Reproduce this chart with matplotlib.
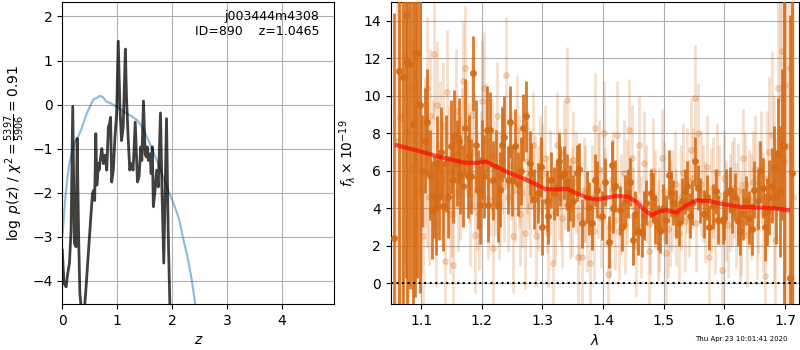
import matplotlib
matplotlib.use('Agg')
import matplotlib.pyplot as plt

# ── p(z) panel data ───────────────────────────────────────────────────────────
z_prior = [0.00, 0.02, 0.05, 0.08, 0.12, 0.17, 0.23, 0.29, 0.35, 0.44, 0.52,
           0.57, 0.63, 0.69, 0.74, 0.80, 0.88, 0.99, 1.08, 1.17, 1.27, 1.36,
           1.45, 1.54, 1.63, 1.72, 1.81, 1.90, 1.98, 2.05, 2.13, 2.21, 2.29,
           2.36, 2.42, 2.50, 2.60]
lnp_prior = [-3.0, -2.7, -2.2, -1.8, -1.4, -1.1, -0.85, -0.73, -0.55, -0.22, 0.0,
             0.12, 0.15, 0.20, 0.17, 0.07, 0.03, -0.05, -0.12, -0.20, -0.27, -0.35,
             -0.50, -0.73, -0.98, -1.26, -1.55, -1.86, -2.10, -2.32, -2.60, -3.08, -3.50,
             -3.98, -4.51, -5.10, -6.00]

z_grid = [0.00, 0.03, 0.07, 0.09, 0.13, 0.16, 0.19, 0.22, 0.25, 0.27, 0.30,
          0.32, 0.35, 0.40, 0.43, 0.47, 0.52, 0.55, 0.57, 0.59, 0.61, 0.63,
          0.66, 0.67, 0.70, 0.72, 0.75, 0.78, 0.81, 0.84, 0.86, 0.88, 0.90,
          0.93, 0.96, 0.99, 1.02, 1.05, 1.08, 1.11, 1.15, 1.17, 1.20, 1.23,
          1.26, 1.29, 1.33, 1.37, 1.40, 1.43, 1.45, 1.48, 1.51, 1.53, 1.55,
          1.57, 1.60, 1.62, 1.64, 1.66, 1.69, 1.72, 1.75, 1.79, 1.82, 1.85,
          1.90, 1.93, 1.96, 1.98, 2.05]
lnp_fit = [-3.31, -4.06, -4.14, -3.91, -3.60, -2.85, -0.04, -3.15, -3.23, -0.77, -3.15,
           -4.29, -4.70, -4.70, -4.20, -3.46, -2.55, -2.02, -1.95, -2.18, -0.66, -1.83,
           -1.34, -1.49, -1.19, -1.00, -1.34, -1.15, -1.49, -0.51, -0.44, -0.29, -1.76,
           -1.49, -0.74, -0.21, 1.44, -0.06, -0.82, -0.51, 1.26, 0.17, -0.74, -1.49,
           -1.34, -1.49, -0.40, -1.76, -1.64, -0.96, -1.27, 0.08, -1.12, -1.19, -0.96,
           -1.27, -1.12, -1.57, -0.96, -2.32, -1.95, -1.49, -1.87, -0.19, -2.10, -3.60,
           -0.32, -2.85, -4.50, -5.10, -8.00]

# ── spectrum panel data ───────────────────────────────────────────────────────
# high S/N beam (dark)
dark_wave = [1.0555, 1.0637, 1.0698, 1.0750, 1.0775, 1.0820, 1.0860, 1.0900, 1.0940, 1.1060,
             1.1140, 1.1180, 1.1210, 1.1260, 1.1300, 1.1370, 1.1410, 1.1450, 1.1490, 1.1540,
             1.1590, 1.1650, 1.1730, 1.1770, 1.1820, 1.1860, 1.1910, 1.1970, 1.2030, 1.2080,
             1.2130, 1.2190, 1.2270, 1.2330, 1.2370, 1.2440, 1.2500, 1.2550, 1.2600, 1.2680,
             1.2730, 1.2790, 1.2820, 1.2930, 1.3000, 1.3070, 1.3140, 1.3190, 1.3240, 1.3290,
             1.3350, 1.3400, 1.3460, 1.3510, 1.3570, 1.3650, 1.3730, 1.3810, 1.3900, 1.4030,
             1.4090, 1.4140, 1.4200, 1.4280, 1.4360, 1.4450, 1.4530, 1.4580, 1.4640, 1.4710,
             1.4790, 1.4860, 1.4940, 1.4990, 1.5090, 1.5150, 1.5210, 1.5300, 1.5390, 1.5460,
             1.5520, 1.5600, 1.5660, 1.5750, 1.5820, 1.5900, 1.5970, 1.6030, 1.6120, 1.6180,
             1.6250, 1.6310, 1.6400, 1.6490, 1.6590, 1.6670, 1.6740, 1.6810, 1.6850, 1.6890,
             1.6950, 1.6990, 1.7080, 1.7110,
             1.098, 1.102, 1.110, 1.124, 1.133, 1.152, 1.162, 1.169, 1.179, 1.194,
             1.200, 1.211, 1.223, 1.230, 1.247, 1.265, 1.287, 1.297, 1.310, 1.327,
             1.343, 1.361, 1.377, 1.386, 1.399, 1.417, 1.432, 1.441, 1.449, 1.467,
             1.483, 1.490, 1.504, 1.512, 1.525, 1.535, 1.543, 1.557, 1.571, 1.586,
             1.600, 1.609, 1.622, 1.636, 1.645, 1.655, 1.663, 1.671, 1.678, 1.692]
dark_flux = [2.4, 11.3, 11.0, 14.3, 11.8, 11.7, 8.5, 12.3, 12.3, 7.6,
             5.8, 3.9, 4.6, 6.4, 4.6, 4.1, 6.4, 4.6, 7.3, 7.9,
             6.4, 5.8, 8.3, 5.7, 5.7, 11.2, 7.4, 4.2, 5.7, 8.2,
             8.2, 5.5, 4.1, 7.4, 7.8, 5.5, 5.5, 7.3, 5.3, 8.3,
             8.9, 6.4, 5.9, 4.8, 3.0, 4.4, 5.5, 4.8, 5.1, 5.7,
             5.9, 5.4, 4.8, 4.4, 5.9, 3.2, 4.6, 3.2, 5.0, 5.4,
             2.2, 6.3, 5.2, 3.9, 4.4, 5.4, 3.7, 2.8, 2.7, 4.3,
             4.8, 3.4, 2.8, 4.0, 5.8, 4.3, 3.7, 4.4, 5.2, 4.3,
             6.5, 4.4, 3.7, 3.0, 4.1, 3.4, 3.3, 4.8, 3.9, 4.6,
             2.8, 3.7, 3.5, 5.0, 6.0, 3.0, 4.6, 6.2, 4.6, 6.9,
             7.4, 7.3, 0.3, 5.9,
             9.5, 6.0, 8.6, 4.0, 7.0, 5.5, 7.6, 5.2, 6.8, 5.0,
             6.6, 4.2, 6.2, 5.0, 8.6, 6.0, 4.5, 6.2, 3.6, 6.5,
             4.2, 6.1, 4.0, 5.5, 3.6, 4.0, 3.0, 4.8, 2.3, 3.6,
             4.6, 3.0, 3.4, 4.8, 3.2, 4.9, 3.6, 5.1, 4.6, 4.9,
             3.5, 5.0, 3.3, 4.4, 2.9, 4.4, 5.1, 3.8, 5.2, 4.9]
dark_err = [12.0, 13.0, 12.5, 14.0, 13.0, 12.0, 11.0, 13.0, 12.0, 2.8,
            2.4, 2.6, 2.2, 2.5, 2.3, 2.4, 2.6, 2.2, 2.5, 2.4,
            2.3, 2.1, 2.6, 2.2, 2.0, 2.0, 2.4, 2.1, 2.2, 2.3,
            2.0, 2.1, 1.9, 2.0, 2.2, 1.8, 1.9, 2.0, 1.7, 1.8,
            1.9, 1.7, 1.6, 1.6, 1.5, 1.6, 1.5, 1.4, 1.5, 1.6,
            1.4, 1.5, 1.5, 1.4, 1.5, 1.3, 1.4, 1.4, 1.5, 1.3,
            1.4, 1.3, 1.4, 1.3, 1.4, 1.3, 1.2, 1.3, 1.3, 1.2,
            1.3, 1.3, 1.2, 1.3, 1.3, 1.2, 1.3, 1.2, 1.3, 1.2,
            1.3, 1.2, 1.3, 1.2, 1.2, 1.3, 1.2, 1.3, 1.2, 1.3,
            1.3, 1.4, 1.4, 1.5, 1.6, 1.8, 2.0, 2.2, 2.5, 3.0,
            4.0, 9.0, 14.0, 15.0,
            10.0, 3.0, 2.8, 2.5, 2.4, 2.3, 2.3, 2.2, 2.2, 2.1,
            2.1, 2.0, 2.0, 2.0, 1.9, 1.8, 1.6, 1.6, 1.5, 1.5,
            1.4, 1.4, 1.4, 1.4, 1.3, 1.3, 1.3, 1.3, 1.3, 1.3,
            1.3, 1.2, 1.3, 1.2, 1.2, 1.2, 1.2, 1.2, 1.2, 1.2,
            1.2, 1.2, 1.3, 1.3, 1.4, 1.5, 1.6, 1.8, 2.0, 3.5]

# low S/N beam (light)
light_wave = [1.060, 1.065, 1.068, 1.074, 1.078, 1.082, 1.087, 1.092, 1.096, 1.100,
              1.103, 1.106, 1.109, 1.110, 1.113, 1.115, 1.119, 1.122, 1.124, 1.127,
              1.131, 1.134, 1.137, 1.139, 1.143, 1.146, 1.148, 1.151, 1.153, 1.156,
              1.158, 1.161, 1.164, 1.167, 1.169, 1.173, 1.175, 1.179, 1.181, 1.184,
              1.187, 1.189, 1.192, 1.195, 1.198, 1.200, 1.204, 1.207, 1.210, 1.214,
              1.217, 1.219, 1.222, 1.225, 1.228, 1.230, 1.234, 1.237, 1.240, 1.243,
              1.246, 1.249, 1.252, 1.255, 1.258, 1.261, 1.263, 1.266, 1.271, 1.274,
              1.277, 1.280, 1.285, 1.288, 1.290, 1.293, 1.296, 1.300, 1.304, 1.307,
              1.310, 1.313, 1.317, 1.320, 1.324, 1.327, 1.330, 1.333, 1.335, 1.338,
              1.340, 1.345, 1.348, 1.351, 1.355, 1.358, 1.361, 1.365, 1.368, 1.370,
              1.374, 1.379, 1.382, 1.385, 1.387, 1.391, 1.394, 1.397, 1.401, 1.404,
              1.408, 1.411, 1.414, 1.417, 1.420, 1.423, 1.427, 1.430, 1.434, 1.437,
              1.440, 1.442, 1.447, 1.450, 1.454, 1.457, 1.460, 1.463, 1.468, 1.471,
              1.475, 1.478, 1.482, 1.486, 1.490, 1.493, 1.497, 1.500, 1.504, 1.507,
              1.510, 1.514, 1.518, 1.521, 1.526, 1.529, 1.532, 1.535, 1.538, 1.542,
              1.545, 1.548, 1.551, 1.554, 1.557, 1.561, 1.565, 1.568, 1.571, 1.574,
              1.578, 1.581, 1.584, 1.588, 1.591, 1.596, 1.599, 1.603, 1.606, 1.609,
              1.612, 1.616, 1.619, 1.622, 1.625, 1.628, 1.631, 1.634, 1.637, 1.640,
              1.644, 1.647, 1.650, 1.653, 1.656, 1.660, 1.663, 1.667, 1.670, 1.674,
              1.678, 1.681, 1.684, 1.688, 1.692, 1.695, 1.698, 1.700, 1.704, 1.708,
              1.713]
light_flux = [7.6, 8.8, 9.0, 12.1, 8.0, 10.4, 6.2, 6.5, 9.6, 5.0,
              2.5, 7.0, 5.7, 10.4, 4.6, 8.9, 6.3, 12.2, 3.2, 9.5,
              7.4, 5.5, 8.4, 1.2, 10.2, 6.0, 3.7, 4.7, 1.0, 6.8,
              9.2, 4.9, 5.6, 7.3, 10.8, 11.5, 7.7, 6.4, 4.2, 9.0,
              7.0, 2.6, 5.0, 3.7, 6.1, 9.7, 10.4, 7.6, 4.5, 5.5,
              6.8, 1.9, 5.6, 8.9, 4.3, 5.1, 6.6, 5.2, 11.1, 4.6,
              7.1, 6.3, 2.5, 5.0, 8.2, 6.0, 3.7, 4.8, 2.7, 6.5,
              5.7, 4.1, 7.4, 5.3, 2.5, 4.5, 6.3, 5.8, 6.7, 4.2,
              2.7, 5.5, 1.1, 3.8, 7.4, 5.2, 4.6, 3.5, 6.9, 5.6,
              9.8, 4.0, 4.3, 6.6, 5.4, 1.4, 3.6, 1.4, 5.0, 4.8,
              3.3, 1.1, 4.6, 2.8, 8.3, 5.2, 6.1, 3.5, 8.0, 4.6,
              0.5, 3.0, 4.9, 5.5, 3.4, 7.9, 2.8, 4.2, 5.9, 3.1,
              4.9, 8.2, 6.7, 3.6, 2.0, 4.3, 7.4, 3.0, 6.4, 4.8,
              1.7, 3.2, 6.0, 4.5, 2.8, 3.4, 6.7, 4.9, 1.6, 2.9,
              3.7, 4.4, 5.3, 3.5, 2.7, 4.6, 5.9, 3.3, 5.5, 4.0,
              7.1, 5.6, 9.9, 3.2, 8.0, 5.3, 4.8, 3.8, 6.2, 1.4,
              4.4, 5.1, 3.3, 5.9, 4.7, 0.7, 5.6, 3.9, 3.1, 4.3,
              4.8, 5.1, 3.6, 4.9, 2.7, 3.2, 6.7, 5.3, 2.6, 4.5,
              4.1, 5.4, 6.1, 3.0, 4.6, 6.2, 3.8, 0.4, 5.6, 7.0,
              7.9, 5.0, 2.3, 10.4, 9.9, 12.4, 6.5, 10.6, 7.3, 11.5,
              4.6]
light_err = [14.0, 13.0, 12.0, 11.0, 10.0, 8.0, 7.0, 6.0, 5.0, 4.5,
             4.2, 4.0, 3.8, 3.8, 3.6, 3.6, 3.5, 3.5, 3.4, 3.4,
             3.4, 3.3, 3.4, 3.2, 3.3, 3.4, 3.2, 3.3, 3.4, 3.2,
             3.3, 3.2, 3.3, 3.1, 3.2, 3.3, 3.1, 3.2, 3.3, 3.1,
             3.2, 3.1, 3.2, 3.0, 3.1, 3.2, 3.0, 3.1, 3.2, 3.0,
             3.1, 3.0, 3.1, 2.9, 3.0, 3.1, 2.9, 3.0, 3.1, 2.9,
             3.0, 2.9, 3.0, 2.8, 2.9, 3.0, 2.8, 2.9, 3.0, 2.8,
             2.8, 2.7, 2.8, 2.6, 2.7, 2.8, 2.6, 2.7, 2.8, 2.6,
             2.9, 2.7, 2.8, 2.6, 2.8, 2.9, 2.6, 2.7, 2.8, 2.7,
             2.8, 2.7, 2.9, 2.6, 2.7, 2.8, 2.6, 2.8, 2.8, 2.6,
             2.7, 2.7, 2.8, 2.6, 2.9, 2.8, 2.6, 2.7, 2.8, 2.6,
             2.8, 2.7, 2.8, 2.6, 2.7, 2.9, 2.6, 2.7, 2.8, 2.6,
             2.8, 2.7, 2.8, 2.6, 2.7, 2.8, 2.6, 2.7, 2.8, 2.6,
             2.8, 2.7, 2.8, 2.6, 2.7, 2.8, 2.6, 2.7, 2.8, 2.6,
             2.8, 2.7, 2.8, 2.6, 2.7, 2.8, 2.6, 2.7, 2.8, 2.6,
             2.8, 2.7, 2.8, 2.6, 2.7, 2.8, 2.6, 2.7, 2.8, 2.6,
             2.8, 2.7, 2.8, 2.6, 2.7, 2.8, 2.6, 2.7, 2.8, 2.6,
             2.8, 2.7, 2.8, 2.6, 2.7, 2.8, 2.6, 2.7, 2.8, 2.6,
             2.8, 2.7, 2.9, 2.8, 3.0, 3.0, 3.2, 3.4, 3.6, 4.0,
             4.5, 5.0, 5.5, 6.0, 7.0, 8.0, 9.0, 10.0, 12.0, 14.0,
             15.0]

# continuum model
model_wave = [1.060, 1.098, 1.131, 1.170, 1.192, 1.208, 1.225, 1.241, 1.263, 1.285,
              1.304, 1.324, 1.340, 1.357, 1.373, 1.390, 1.406, 1.423, 1.442, 1.455,
              1.469, 1.480, 1.494, 1.505, 1.521, 1.538, 1.554, 1.576, 1.598, 1.626,
              1.659, 1.686, 1.705]
model_flux = [7.36, 7.04, 6.74, 6.44, 6.42, 6.49, 6.20, 5.94, 5.67, 5.35,
              5.04, 5.00, 5.05, 4.79, 4.57, 4.47, 4.57, 4.66, 4.61, 4.34,
              3.90, 3.63, 3.85, 3.90, 3.78, 4.17, 4.43, 4.38, 4.22, 4.08,
              4.04, 3.99, 3.90]

label_text = 'j003444m4308\nID=890    z=1.0465'
stamp = 'Thu Apr 23 10:01:41 2020'

# ── figure ────────────────────────────────────────────────────────────────────
fig = plt.figure(figsize=(8, 3.5), dpi=100)
ax1 = fig.add_axes([0.0779, 0.1314, 0.34, 0.863])
ax2 = fig.add_axes([0.4884, 0.1314, 0.5108, 0.863])

# left: log p(z)
ax1.plot(z_prior, lnp_prior, color='tab:blue', alpha=0.5, lw=1.5)
ax1.plot(z_grid, lnp_fit, color='k', alpha=0.75, lw=2)
ax1.set_xlim(0, 4.96)
ax1.set_ylim(-4.53, 2.33)
ax1.set_xticks([0, 1, 2, 3, 4])
ax1.set_yticks([-4, -3, -2, -1, 0, 1, 2])
ax1.grid()
ax1.set_xlabel('$z$')
ax1.set_ylabel(r'$\log\ p(z)$ / $\chi^2=\frac{5397}{5906}=0.91$')
ax1.text(0.945, 0.975, label_text, ha='right', va='top',
         transform=ax1.transAxes, fontsize=9)

# right: spectrum
orange = '#d66b15'
ax2.errorbar(light_wave, light_flux, yerr=light_err, fmt='o', color=orange,
             alpha=0.22, ms=4, lw=2, zorder=2)
ax2.errorbar(dark_wave, dark_flux, yerr=dark_err, fmt='o', color=orange,
             alpha=0.9, ms=4, lw=2, zorder=3)
ax2.plot(model_wave, model_flux, color='red', alpha=0.65, lw=3, zorder=4)
ax2.axhline(0, color='k', ls=':', lw=1.5, zorder=5)
ax2.set_xlim(1.05, 1.7236)
ax2.set_ylim(-1.1, 15)
ax2.set_xticks([1.1, 1.2, 1.3, 1.4, 1.5, 1.6, 1.7])
ax2.set_yticks([0, 2, 4, 6, 8, 10, 12, 14])
ax2.grid()
ax2.set_xlabel(r'$\lambda$')
ax2.set_ylabel(r'$f_\lambda\times10^{-19}$')

fig.text(0.985, 0.022, stamp, ha='right', va='bottom', fontsize=5)

plt.savefig('out.png', dpi=100)
plt.close()
